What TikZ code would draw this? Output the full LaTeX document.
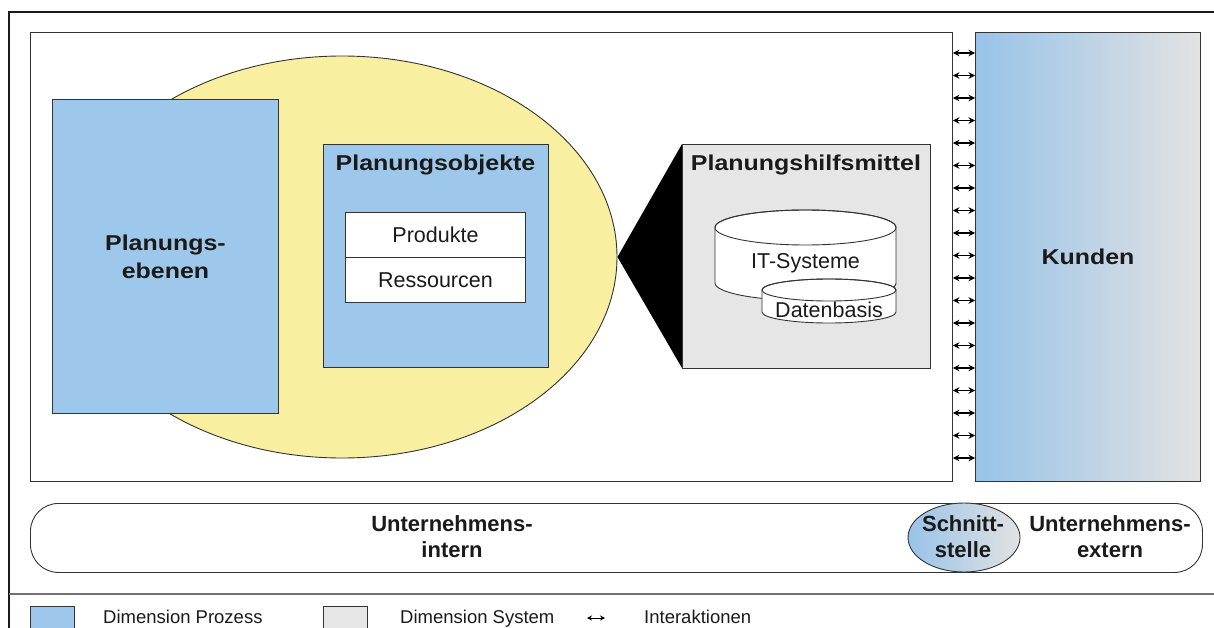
\documentclass[tikz,border=0pt]{standalone}
\usepackage{fontspec}
\setmainfont{Liberation Sans}
\newfontfamily\widebf[FakeStretch=1.16]{Liberation Sans}
\usetikzlibrary{arrows.meta,shapes.geometric}

\definecolor{procblue}{HTML}{9DC8EB}
\definecolor{sysgray}{HTML}{E6E6E6}
\definecolor{scopeyellow}{HTML}{F8EFA0}
\definecolor{edgecol}{HTML}{333333}
\definecolor{fadeblue}{HTML}{98C3E8}
\definecolor{fademid}{HTML}{BFD6EC}
\definecolor{fadegray}{HTML}{E2E2E2}
\definecolor{inkcol}{HTML}{1A1A1A}

\begin{document}
\begin{tikzpicture}[x=1pt,y=-1pt,
  box/.style={draw=edgecol, line width=0.9pt, inner sep=0pt, anchor=north west},
  headline/.style={font=\widebf\bfseries\fontsize{21.5}{28}\selectfont, align=center, text=inkcol},
  txt/.style={font=\fontsize{21.5}{24}\selectfont, text=inkcol},
  bandtext/.style={font=\bfseries\fontsize{22}{26}\selectfont, align=center, text=inkcol},
  legendtext/.style={font=\fontsize{18.5}{22}\selectfont, text=inkcol, anchor=base west, inner sep=0pt},
  ia/.style={{Stealth[length=6.5pt,width=6.5pt]}-{Stealth[length=6.5pt,width=6.5pt]}, line width=1.3pt, black},
]
\useasboundingbox (0,0) rectangle (1214,628);
\clip (0,0) rectangle (1214,628);

% outer frame and legend rule
\draw[line width=2.5pt, inkcol] (9,12) rectangle (1260,680);
\draw[line width=1.4pt, black!55] (9,594) -- (1214,594);

% company-internal area
\node[box, fill=white, minimum width=922pt, minimum height=449pt] (intern) at (30,32) {};

% planning scope ellipse
\node[draw=edgecol, line width=0.9pt, fill=scopeyellow, ellipse, inner sep=0pt,
      minimum width=550pt, minimum height=402pt] (scope) at (342,257) {};

% planning levels
\node[box, fill=procblue, minimum width=226pt, minimum height=314pt] (ebenen) at (52,99) {};
\node[headline] (ebenentxt) at (ebenen.center) {Planungs-\\ebenen};

% planning objects
\node[box, fill=procblue, minimum width=225pt, minimum height=223pt] (objekte) at (323,144) {};
\node[headline] (objektetxt) at (435.5,165) {Planungsobjekte};
\node[box, fill=white, minimum width=180pt, minimum height=45pt] (produkte) at (345,212) {};
\node[box, fill=white, minimum width=180pt, minimum height=45pt] (ressourcen) at (345,257) {};
\node[txt] (produktetxt) at (produkte.center) {Produkte};
\node[txt] (ressourcentxt) at (ressourcen.center) {Ressourcen};

% planning tools with the black link wedge
\coordinate (toolsNW) at (682,144);
\coordinate (toolsSW) at (682,368);
\fill[black] (scope.east) -- (toolsNW) -- (toolsSW) -- cycle;
\node[box, fill=sysgray, minimum width=248pt, minimum height=224pt] (tools) at (toolsNW) {};
\node[headline] (toolstxt) at (806,165) {Planungshilfsmittel};

% IT systems cylinder
\filldraw[fill=white, draw=edgecol, line width=0.9pt]
  (715,227.5) -- (715,283) arc[start angle=180, end angle=360, x radius=90.5pt, y radius=17.5pt]
  -- (896,227.5) arc[start angle=0, end angle=180, x radius=90.5pt, y radius=17.5pt] -- cycle;
\draw[edgecol, line width=0.9pt] (805.5,227.5) ellipse [x radius=90.5pt, y radius=17.5pt];
\node[txt] (itsys) at (805.5,263) {IT-Systeme};

% data base cylinder
\filldraw[fill=white, draw=edgecol, line width=0.9pt]
  (762,290) -- (762,312) arc[start angle=180, end angle=360, x radius=67pt, y radius=11pt]
  -- (896,290) arc[start angle=0, end angle=180, x radius=67pt, y radius=11pt] -- cycle;
\draw[edgecol, line width=0.9pt] (829,290) ellipse [x radius=67pt, y radius=11pt];
\node[txt] (datenbasis) at (829,310) {Datenbasis};

% customers
\node[box, left color=fadeblue, middle color=fademid, right color=fadegray,
      minimum width=225pt, minimum height=449pt] (kunden) at (975,32) {};
\node[headline] (kundentxt) at (kunden.center) {Kunden};

% interactions across the boundary
\foreach \i in {0,...,18} {
  \draw[ia] (intern.east |- 0,{53+22.5*\i}) -- (kunden.west |- 0,{53+22.5*\i});
}

% internal / interface / external band
\node[box, fill=white, rounded corners=28pt, minimum width=1172pt, minimum height=69pt] (band) at (30,503) {};
\node[draw=edgecol, line width=0.9pt, ellipse, inner sep=0pt, left color=fadeblue, right color=fadegray,
      minimum width=112pt, minimum height=69pt] (schnitt) at (964,537.5) {};
\node[bandtext] (interntxt) at (452,537) {Unternehmens-\\intern};
\node[bandtext] (schnitttxt) at (963,537) {Schnitt-\\stelle};
\node[bandtext] (externtxt) at (1110,537) {Unternehmens-\\extern};

% legend
\node[box, fill=procblue, minimum width=44pt, minimum height=40pt] (legproc) at (30,606) {};
\node[legendtext] (legproctxt) at (103,623) {Dimension Prozess};
\node[box, fill=sysgray, minimum width=44pt, minimum height=40pt] (legsys) at (323,606) {};
\node[legendtext] (legsystxt) at (400,623) {Dimension System};
\coordinate (legA) at (587,618);
\coordinate (legB) at (605,618);
\draw[{Stealth[length=5pt,width=5pt]}-{Stealth[length=5pt,width=5pt]}, line width=1pt] (legA) -- (legB);
\node[legendtext] (leginttxt) at (644,623) {Interaktionen};
\end{tikzpicture}
\end{document}
